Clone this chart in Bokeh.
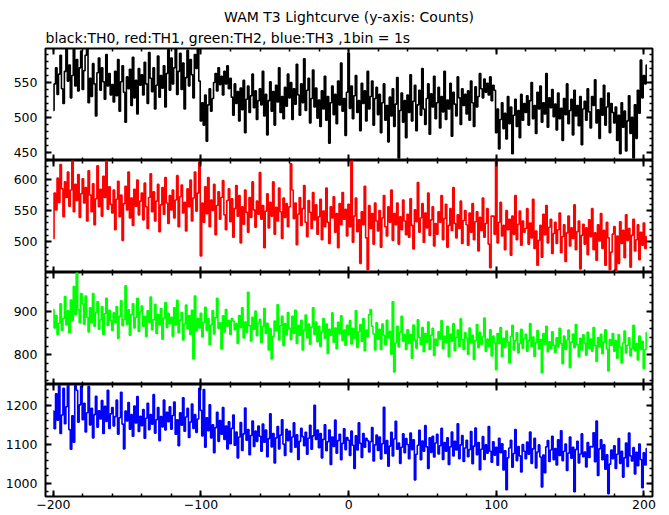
from bokeh.plotting import figure
from bokeh.models import Range1d, FixedTicker, LinearAxis, Title, ColumnDataSource, CustomJSTickFormatter
from bokeh.layouts import column
from bokeh.embed import file_html
from bokeh.resources import INLINE

# ---------------- data (counts per 1 s bin) ----------------
time_s = list(range(-200, 203))

th0_rows = [
    [510, 548, 571, 533, 562, 589, 541, 520, 566, 598, 552, 575, 528, 560, 600, 545, 583, 538, 571, 595],
    [540, 567, 589, 598, 521, 556, 530, 577, 548, 502, 564, 585, 539, 571, 551, 526, 590, 545, 563, 532],
    [547, 522, 566, 531, 583, 509, 551, 574, 536, 493, 558, 541, 569, 517, 586, 528, 553, 505, 570, 546],
    [561, 532, 579, 548, 520, 593, 556, 537, 571, 512, 546, 588, 529, 560, 542, 574, 515, 563, 597, 539],
    [585, 548, 571, 600, 533, 566, 592, 540, 578, 512, 557, 596, 545, 583, 561, 528, 590, 570, 599, 552],
    [495, 521, 489, 532, 466, 518, 541, 509, 527, 550, 563, 538, 571, 547, 559, 532, 566, 548, 574, 541],
    [556, 529, 503, 548, 520, 537, 495, 542, 511, 553, 478, 526, 545, 507, 531, 562, 514, 538, 497, 524],
    [541, 518, 566, 502, 533, 475, 524, 551, 509, 537, 489, 546, 522, 571, 507, 530, 498, 543, 516, 562],
    [528, 550, 497, 541, 519, 576, 532, 503, 548, 521, 584, 510, 539, 556, 492, 527, 568, 515, 542, 499],
    [525, 487, 538, 512, 559, 496, 530, 463, 521, 545, 504, 533, 491, 552, 518, 578, 509, 527, 474, 536],
    [592, 513, 545, 498, 531, 560, 507, 524, 481, 549, 520, 538, 495, 566, 512, 530, 552, 489, 527, 543],
    [504, 533, 478, 521, 548, 496, 517, 465, 529, 502, 541, 487, 519, 557, 442, 510, 535, 493, 524, 471],
    [532, 507, 561, 495, 523, 546, 481, 518, 539, 503, 570, 512, 490, 527, 548, 476, 534, 515, 559, 498],
    [521, 543, 485, 530, 508, 566, 497, 525, 512, 549, 473, 536, 519, 502, 558, 528, 490, 541, 517, 533],
    [505, 538, 496, 552, 521, 487, 544, 515, 530, 563, 541, 528, 555, 536, 549, 532, 558, 524, 546, 539],
    [478, 512, 455, 497, 521, 484, 506, 469, 530, 491, 515, 448, 503, 526, 487, 510, 471, 533, 496, 520],
    [507, 531, 489, 524, 550, 498, 517, 477, 536, 512, 545, 493, 521, 505, 563, 486, 528, 514, 540, 501],
    [519, 482, 535, 498, 513, 467, 527, 504, 548, 491, 510, 526, 475, 539, 502, 517, 488, 530, 461, 512],
    [523, 496, 541, 508, 485, 530, 517, 554, 492, 511, 470, 527, 503, 546, 489, 515, 535, 478, 520, 507],
    [492, 515, 467, 503, 448, 521, 486, 509, 452, 495, 531, 477, 500, 442, 518, 470, 539, 506, 582, 528],
    [560, 548, 575],
]

th1_rows = [
    [505, 578, 551, 602, 563, 624, 585, 540, 596, 571, 612, 557, 583, 630, 548, 592, 566, 608, 539, 577],
    [601, 562, 587, 533, 614, 575, 548, 593, 527, 569, 622, 556, 584, 541, 605, 571, 630, 552, 588, 560],
    [546, 583, 519, 568, 597, 540, 575, 502, 561, 589, 551, 612, 538, 570, 526, 584, 557, 599, 543, 565],
    [578, 535, 594, 556, 521, 571, 609, 548, 580, 533, 565, 592, 516, 559, 587, 544, 603, 562, 529, 574],
    [551, 583, 538, 567, 606, 524, 572, 591, 546, 563, 517, 585, 556, 599, 533, 570, 612, 549, 578, 628],
    [477, 562, 531, 588, 545, 603, 524, 567, 550, 592, 511, 558, 580, 536, 571, 598, 543, 519, 566, 585],
    [532, 569, 507, 553, 590, 541, 574, 498, 556, 528, 583, 547, 515, 571, 539, 596, 551, 523, 565, 544],
    [611, 536, 558, 490, 549, 577, 522, 563, 541, 596, 512, 555, 533, 586, 548, 505, 570, 539, 561, 524],
    [556, 625, 583, 537, 562, 495, 544, 571, 526, 553, 590, 531, 508, 566, 547, 521, 579, 535, 559, 512],
    [540, 568, 503, 549, 524, 586, 531, 497, 556, 538, 572, 515, 545, 490, 561, 527, 579, 536, 552, 509],
    [560, 524, 630, 499, 541, 570, 516, 535, 465, 548, 527, 589, 506, 455, 558, 521, 545, 496, 562, 533],
    [517, 550, 491, 538, 574, 524, 509, 556, 531, 583, 502, 545, 527, 562, 496, 540, 519, 567, 533, 511],
    [544, 507, 569, 526, 488, 551, 532, 595, 515, 538, 561, 499, 546, 522, 578, 510, 535, 556, 493, 529],
    [512, 548, 531, 574, 503, 537, 560, 491, 526, 553, 518, 587, 529, 506, 543, 521, 565, 497, 534, 550],
    [527, 494, 546, 515, 561, 503, 532, 548, 485, 539, 518, 570, 507, 529, 553, 496, 458, 541, 541, 512],
    [630, 498, 531, 563, 509, 526, 487, 550, 519, 536, 478, 541, 512, 574, 503, 528, 549, 494, 533, 515],
    [521, 553, 496, 530, 506, 568, 489, 517, 462, 502, 526, 475, 544, 511, 558, 498, 523, 536, 481, 513],
    [531, 497, 519, 546, 482, 508, 527, 468, 514, 541, 493, 522, 505, 559, 487, 516, 533, 456, 510, 528],
    [496, 522, 479, 535, 508, 553, 487, 514, 470, 527, 501, 545, 489, 518, 462, 531, 506, 455, 483, 512],
    [524, 452, 509, 465, 532, 497, 518, 474, 543, 502, 521, 459, 510, 536, 485, 503, 527, 471, 515, 494],
    [530, 489, 508],
]

th2_rows = [
    [905, 862, 891, 847, 873, 918, 856, 884, 935, 869, 902, 851, 927, 880, 958, 893, 991, 905, 874, 942],
    [918, 871, 936, 887, 853, 909, 874, 942, 866, 898, 923, 859, 881, 912, 847, 895, 931, 868, 903, 879],
    [856, 897, 874, 912, 838, 889, 925, 867, 882, 960, 871, 904, 845, 893, 918, 862, 887, 931, 854, 899],
    [913, 866, 889, 842, 902, 875, 934, 858, 881, 917, 849, 893, 869, 907, 836, 885, 921, 863, 896, 872],
    [887, 843, 909, 869, 926, 851, 880, 898, 834, 872, 915, 860, 891, 847, 903, 790, 936, 855, 884, 862],
    [896, 841, 875, 910, 857, 883, 823, 869, 902, 848, 886, 931, 861, 874, 813, 890, 853, 905, 866, 879],
    [847, 884, 878, 858, 872, 826, 891, 863, 909, 839, 876, 852, 945, 867, 832, 887, 859, 901, 844, 873],
    [882, 828, 865, 907, 849, 873, 811, 860, 790, 842, 878, 855, 916, 834, 867, 889, 821, 872, 846, 898],
    [861, 835, 889, 850, 903, 826, 868, 845, 880, 811, 857, 892, 839, 871, 824, 864, 909, 847, 876, 830],
    [866, 819, 853, 884, 838, 871, 803, 859, 845, 897, 829, 862, 814, 875, 848, 890, 833, 857, 822, 868],
    [846, 879, 825, 861, 838, 902, 817, 853, 870, 831, 884, 809, 857, 842, 893, 905, 866, 848, 811, 874],
    [836, 859, 812, 871, 845, 823, 880, 839, 854, 801, 923, 760, 827, 866, 818, 852, 889, 831, 847, 812],
    [858, 826, 847, 792, 869, 834, 815, 881, 840, 823, 863, 807, 849, 829, 876, 812, 845, 861, 798, 836],
    [821, 853, 836, 879, 814, 843, 827, 866, 795, 848, 831, 872, 809, 840, 857, 819, 883, 835, 812, 851],
    [838, 801, 862, 827, 845, 789, 833, 870, 816, 852, 824, 841, 885, 808, 836, 819, 858, 797, 843, 828],
    [765, 849, 826, 863, 795, 838, 817, 855, 829, 781, 842, 868, 811, 833, 851, 804, 826, 859, 815, 837],
    [847, 808, 832, 872, 819, 841, 796, 828, 856, 813, 835, 758, 849, 824, 866, 807, 830, 814, 853, 822],
    [805, 839, 818, 861, 826, 779, 843, 812, 834, 857, 770, 829, 848, 816, 870, 823, 795, 838, 811, 846],
    [827, 799, 852, 815, 836, 808, 863, 821, 784, 840, 818, 847, 802, 829, 858, 813, 762, 835, 822, 849],
    [808, 833, 792, 846, 817, 781, 827, 855, 804, 822, 839, 797, 815, 868, 809, 826, 788, 843, 812, 831],
    [768, 812, 851],
]

th3_rows = [
    [1185, 1140, 1229, 1162, 1250, 1128, 1175, 1243, 1153, 1196, 1251, 1138, 1088, 1173, 1106, 1250, 1238, 1157, 1201, 1249],
    [1163, 1205, 1132, 1181, 1248, 1150, 1192, 1117, 1176, 1223, 1144, 1186, 1165, 1212, 1128, 1197, 1159, 1238, 1141, 1178],
    [1194, 1147, 1171, 1213, 1126, 1168, 1233, 1152, 1089, 1185, 1160, 1207, 1139, 1176, 1121, 1198, 1155, 1222, 1133, 1172],
    [1148, 1189, 1116, 1167, 1205, 1138, 1176, 1152, 1227, 1129, 1163, 1194, 1110, 1171, 1145, 1213, 1137, 1182, 1158, 1196],
    [1139, 1174, 1208, 1126, 1163, 1097, 1181, 1149, 1219, 1134, 1170, 1192, 1118, 1157, 1203, 1141, 1176, 1131, 1165, 1243],
    [1187, 1122, 1240, 1093, 1168, 1135, 1201, 1117, 1150, 1079, 1143, 1182, 1108, 1161, 1126, 1194, 1113, 1147, 1089, 1158],
    [1102, 1141, 1175, 1098, 1132, 1066, 1119, 1156, 1085, 1127, 1193, 1111, 1138, 1074, 1123, 1160, 1095, 1134, 1108, 1147],
    [1121, 1083, 1152, 1106, 1137, 1069, 1115, 1178, 1094, 1128, 1053, 1117, 1146, 1089, 1124, 1163, 1101, 1072, 1139, 1110],
    [1134, 1081, 1119, 1155, 1093, 1125, 1062, 1108, 1141, 1120, 1097, 1131, 1075, 1116, 1149, 1088, 1122, 1200, 1113, 1137],
    [1092, 1128, 1066, 1113, 1150, 1084, 1107, 1137, 1049, 1119, 1095, 1162, 1078, 1110, 1126, 1061, 1103, 1140, 1087, 1118],
    [1111, 1072, 1134, 1098, 1039, 1122, 1086, 1155, 1103, 1067, 1128, 1093, 1116, 1110, 1081, 1107, 1143, 1058, 1099, 1124],
    [1085, 1119, 1063, 1102, 1195, 1077, 1110, 1045, 1096, 1131, 1071, 1114, 1159, 1088, 1104, 1052, 1093, 1127, 1079, 1115],
    [1100, 1064, 1129, 1087, 1112, 1010, 1075, 1098, 1136, 1061, 1109, 1083, 1148, 1094, 1039, 1117, 1080, 1121, 1068, 1104],
    [1126, 1076, 1097, 1141, 1062, 1105, 1083, 1117, 1049, 1094, 1132, 1071, 1108, 1086, 1153, 1064, 1099, 1123, 1057, 1091],
    [1111, 1069, 1087, 1133, 1051, 1096, 1142, 1074, 1105, 1036, 1088, 1120, 1062, 1099, 1078, 1146, 1083, 1055, 1107, 1073],
    [1093, 1047, 1116, 1079, 1102, 1035, 1084, 985, 1066, 1091, 1111, 1042, 1077, 1138, 1059, 1095, 1071, 1030, 1100, 1083],
    [1064, 1106, 1075, 1132, 1052, 1089, 1116, 1040, 1081, 1099, 1068, 992, 1073, 1028, 1094, 1110, 1057, 1086, 1121, 1061],
    [1090, 1048, 1112, 1072, 1135, 1059, 1083, 1101, 1034, 1078, 1119, 1065, 1093, 980, 1087, 1108, 1053, 1076, 1127, 1069],
    [1081, 1043, 1105, 1067, 1095, 1094, 1130, 1056, 1160, 1021, 1089, 1112, 1061, 1099, 1037, 1074, 975, 1050, 1086, 1064],
    [1097, 1039, 1075, 1115, 1052, 1083, 1017, 1066, 1104, 1044, 1129, 1071, 1058, 1092, 1025, 1080, 1046, 1101, 1062, 990],
    [1079, 1048, 1090],
]

th0 = [v for row in th0_rows for v in row]
th1 = [v for row in th1_rows for v in row]
th2 = [v for row in th2_rows for v in row]
th3 = [v for row in th3_rows for v in row]

x_major = [-200, -100, 0, 100, 200]
x_minor = list(range(-200, 201, 20))

panels = [
    # counts, colour, y-range, major ticks, minor ticks
    (th0, "#000000", (438.3, 598.7), [450, 500, 550], list(range(440, 600, 10))),
    (th1, "#ff0000", (450.3, 630.4), [500, 550, 600], list(range(460, 631, 10))),
    (th2, "#00ff00", (730.7, 990.8), [800, 900], list(range(740, 991, 20))),
    (th3, "#0000ff", (967.6, 1252.8), [1000, 1100, 1200], list(range(980, 1253, 20))),
]

title_text = "WAM T3 Lightcurve (y-axis: Counts)"
subtitle_text = "black:TH0, red:TH1, green:TH2, blue:TH3 ,1bin = 1s"

FONT = "DejaVu Sans"


def style_axis(ax, ticks, minor, labels, standoff=5):
    ax.ticker = FixedTicker(ticks=ticks, minor_ticks=minor)
    ax.axis_line_color = None
    ax.major_tick_in = 6
    ax.major_tick_out = 0
    ax.minor_tick_in = 3
    ax.minor_tick_out = 0
    ax.major_tick_line_width = 2
    ax.minor_tick_line_width = 1.5
    ax.major_tick_line_color = "black"
    ax.minor_tick_line_color = "black"
    if labels:
        ax.major_label_text_font = FONT
        ax.major_label_text_font_size = "12.5px"
        ax.major_label_text_color = "black"
        ax.major_label_standoff = standoff
    else:
        ax.formatter = CustomJSTickFormatter(code="return ''")
        ax.major_label_text_font_size = "0px"
        ax.major_label_standoff = 0


figs = []
n = len(panels)
for i, (counts, color, (ylo, yhi), ymaj, ymin) in enumerate(panels):
    top = 48 if i == 0 else 0
    bottom = 18 if i == n - 1 else 0
    p = figure(frame_width=607, frame_height=112,
               x_range=Range1d(-205.3, 205.8), y_range=Range1d(ylo, yhi),
               output_backend="svg", toolbar_location=None, title_location=None,
               x_axis_type=None, y_axis_type=None,
               min_border_left=45, min_border_right=15,
               min_border_top=top, min_border_bottom=bottom)
    p.outline_line_color = "black"
    p.outline_line_width = 2
    p.outline_line_alpha = 1.0
    p.background_fill_color = "white"
    p.border_fill_color = "white"

    src = ColumnDataSource(dict(t=time_s, c=counts))
    p.step(x="t", y="c", source=src, mode="center", line_color=color, line_width=1.6)

    left = LinearAxis()
    style_axis(left, ymaj, ymin, True, standoff=8)
    p.add_layout(left, "left")
    right = LinearAxis()
    style_axis(right, ymaj, ymin, False)
    p.add_layout(right, "right")

    below = LinearAxis()
    style_axis(below, x_major, x_minor, i == n - 1, standoff=3)
    p.add_layout(below, "below")
    above = LinearAxis()
    style_axis(above, x_major, x_minor, False)
    p.add_layout(above, "above")

    if i == 0:
        p.add_layout(Title(text=subtitle_text, align="left", text_font=FONT,
                           text_font_size="14px", text_font_style="normal",
                           text_color="black", standoff=6, offset=0), "above")
        p.add_layout(Title(text=title_text, align="center", text_font=FONT,
                           text_font_size="14px", text_font_style="normal",
                           text_color="black", standoff=0, offset=0), "above")
    figs.append(p)

layout = column(*figs, spacing=0)

with open("out.html", "w") as f:
    f.write(file_html(layout, INLINE))
